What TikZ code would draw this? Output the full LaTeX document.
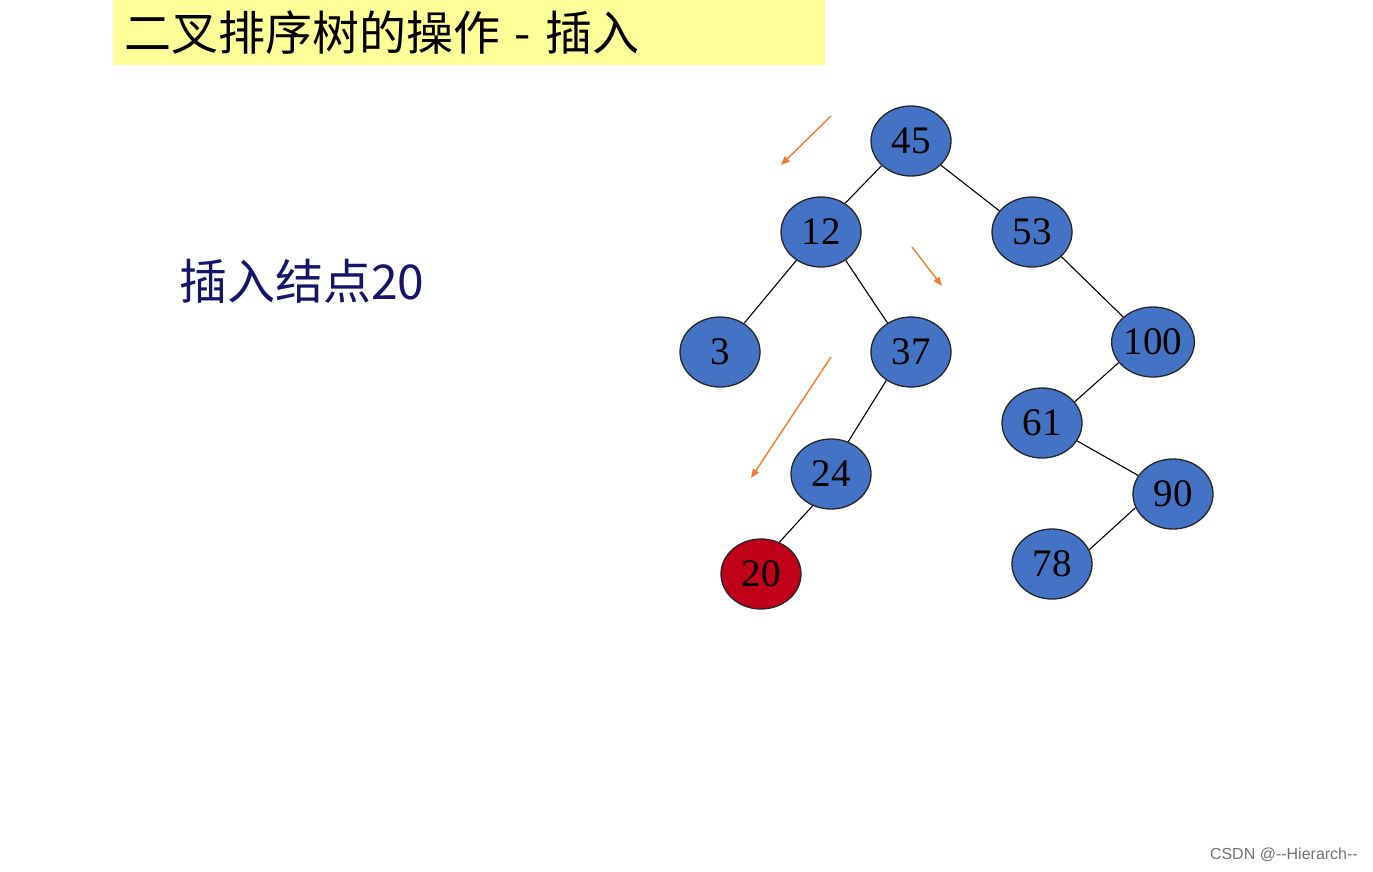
\documentclass[tikz,border=0pt]{standalone}
\usepackage{fontspec}
\setmainfont{Liberation Serif}
\newfontfamily\cjk{Noto Sans CJK SC}
\newfontfamily\arialf{Liberation Sans}
\usetikzlibrary{shapes.geometric,arrows.meta}
\definecolor{nodeblue}{HTML}{4472C4}
\definecolor{nodered}{HTML}{C00018}
\definecolor{titleyellow}{HTML}{FFFF99}
\definecolor{navytext}{HTML}{14146A}
\definecolor{arrowor}{HTML}{ED7D31}
\tikzset{
  tnode/.style={ellipse, draw=black!85, line width=1.3pt, fill=nodeblue,
    minimum width=80pt, minimum height=70pt, inner sep=0pt,
    font=\fontsize{39}{39}\selectfont},
  rnode/.style={tnode, fill=nodered},
  edge/.style={draw=black, line width=1.1pt},
  hint/.style={draw=arrowor, line width=1.4pt, -{Triangle[length=9pt,width=7pt]}}
}
\begin{document}
\begin{tikzpicture}[x=1pt,y=-1pt]
\useasboundingbox (0,0) rectangle (1373,871);
\fill[white] (0,0) rectangle (1373,871);
% title
\node[fill=titleyellow, minimum width=712pt, minimum height=65pt, inner sep=0pt, anchor=north west] (titlebox) at (113,0) {};
\node[anchor=west, inner sep=0pt, font=\cjk\fontsize{47}{47}\selectfont] (title) at (124,33) {二叉排序树的操作\hspace{4pt} - \hspace{4pt}插入};
% label
\node[anchor=west, inner sep=0pt, text=navytext, font=\cjk\fontsize{48}{48}\selectfont] (lbl) at (179,281) {插入结点20};
% tree nodes
\node[tnode] (n45) at (911,141) {45};
\node[tnode] (n12) at (821,232) {12};
\node[tnode] (n53) at (1032,232) {53};
\node[tnode] (n3) at (720,352) {3};
\node[tnode] (n37) at (911,352) {37};
\node[tnode] (n100) at (1153,342) {100};
\node[tnode] (n61) at (1042,423) {61};
\node[tnode] (n24) at (831,474) {24};
\node[tnode] (n90) at (1173,494) {90};
\node[tnode] (n78) at (1052,564) {78};
\node[rnode] (n20) at (761,574) {20};
% edges
\draw[edge] (n45.220) -- (n12.50);
\draw[edge] (n45.321) -- (n53.147);
\draw[edge] (n12.229) -- (n3.50);
\draw[edge] (n12.311) -- (n37.129);
\draw[edge] (n37.229) -- (n24.62);
\draw[edge] (n24.240) -- (n20.60);
\draw[edge] (n53.320) -- (n100.140);
\draw[edge] (n100.211) -- (n61.33);
\draw[edge] (n61.333) -- (n90.152);
\draw[edge] (n90.200) -- (n78.21);
% hint arrows
\coordinate (a1s) at (831,116); \coordinate (a1e) at (781,165);
\coordinate (a2s) at (912,247); \coordinate (a2e) at (942,286);
\coordinate (a3s) at (831,357); \coordinate (a3e) at (751,478);
\draw[hint] (a1s) -- (a1e);
\draw[hint] (a2s) -- (a2e);
\draw[hint] (a3s) -- (a3e);
% footer
\node[anchor=east, inner sep=0pt, text=black!55, font=\arialf\fontsize{16}{16}\selectfont] (footer) at (1358,855) {CSDN @--Hierarch--};
\end{tikzpicture}
\end{document}
